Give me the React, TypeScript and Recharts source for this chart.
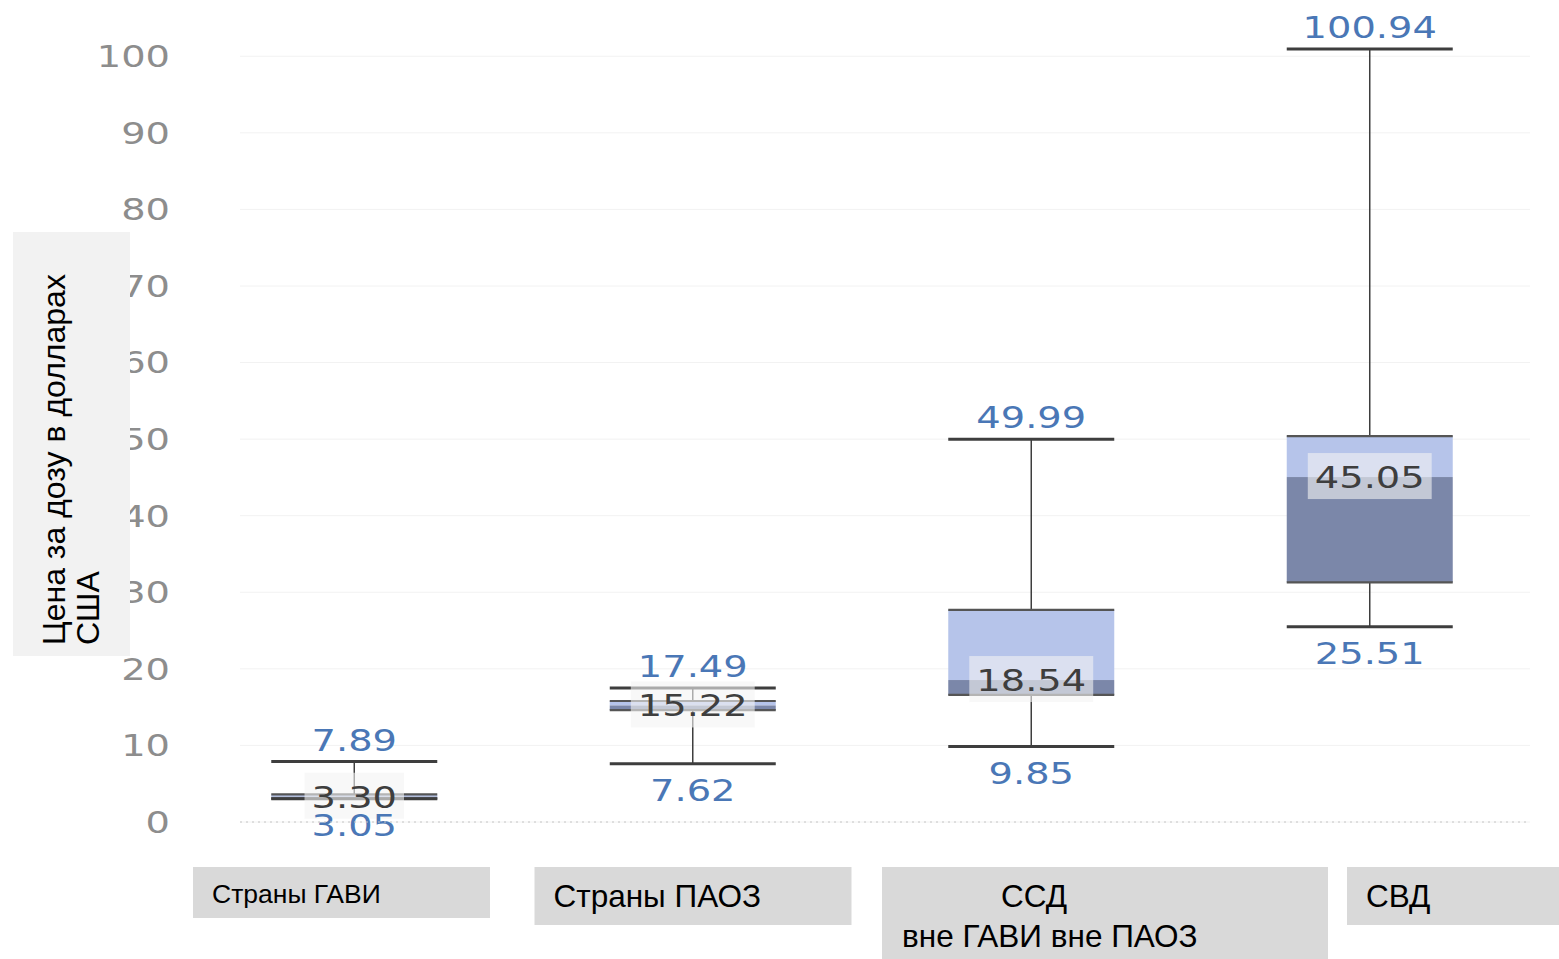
import React from 'react';
import { ComposedChart, Bar, XAxis, YAxis, CartesianGrid, ReferenceLine } from 'recharts';

// ---- data ----
const categories = ['Страны ГАВИ', 'Страны ПАОЗ', 'ССД\nвне ГАВИ вне ПАОЗ', 'СВД'];
const minValues = [3.05, 7.62, 9.85, 25.51];
const q1Values = [3.05, 14.6, 16.6, 31.3];
const medianValues = [3.3, 15.22, 18.54, 45.05];
const q3Values = [3.6, 15.8, 27.7, 50.4];
const maxValues = [7.89, 17.49, 49.99, 100.94];
const yTicks = [0, 10, 20, 30, 40, 50, 60, 70, 80, 90, 100];
const yAxisTitle = ['Цена за дозу в долларах', 'США'];

const data = categories.map((name, i) => ({
  pos: i,
  name,
  min: minValues[i],
  q1: q1Values[i],
  median: medianValues[i],
  q3: q3Values[i],
  max: maxValues[i],
}));

// ---- layout / style ----
const W = 1559;
const H = 959;
const NUM_FONT = 'DejaVu Sans, Verdana, sans-serif';
const NUM_SIZE = 30;
const NUM_STRETCH = 1.28;
const BLUE = '#4a77b6';
const DARK = '#3e3e3e';
const LIGHT_BOX = '#b6c4ea';
const DARK_BOX = '#7b87a9';

const labelBoxes = [
  { left: -161.5, width: 297, top: 45, height: 51, fontSize: 26.5, lines: [{ dx: 19, dy: 36 }] },
  { left: -158.5, width: 317, top: 45, height: 58, fontSize: 31.5, lines: [{ dx: 19, dy: 40 }] },
  { left: -149.5, width: 446, top: 45, height: 92, fontSize: 31.5, lines: [{ dx: 119, dy: 40 }, { dx: 20, dy: 80 }] },
  { left: -23, width: 212, top: 45, height: 58, fontSize: 31.5, lines: [{ dx: 19, dy: 40 }] },
];

const fmt = (v: number) => v.toFixed(2);
const numWidth = (s: string) => {
  let em = 0;
  for (const ch of s) em += ch === '.' ? 0.318 : 0.636;
  return em * NUM_SIZE * NUM_STRETCH;
};

const NumText = ({ x, y, text, fill }: { x: number; y: number; text: string; fill: string }) => (
  <text
    transform={`translate(${x},${y}) scale(${NUM_STRETCH},1)`}
    textAnchor="middle"
    fontFamily={NUM_FONT}
    fontSize={NUM_SIZE}
    fill={fill}
  >
    {text}
  </text>
);

const BoxShape = (props: any) => {
  const { x, y, width, height, payload } = props;
  if (!payload) return null;
  const top = Math.min(y, y + height);
  const bottom = Math.max(y, y + height);
  const lo = payload.min;
  const hi = payload.max;
  const py = (v: number) => bottom - ((v - lo) / (hi - lo)) * (bottom - top);
  const cx = x + width / 2;
  const yMax = py(payload.max);
  const yMin = py(payload.min);
  const yQ1 = py(payload.q1);
  const yQ3 = py(payload.q3);
  const yMed = py(payload.median);
  const medText = fmt(payload.median);
  const bgW = numWidth(medText) + 14;
  return (
    <g>
      <line x1={cx} x2={cx} y1={yMax} y2={yQ3} stroke={DARK} strokeWidth={1.5} />
      <line x1={cx} x2={cx} y1={yQ1} y2={yMin} stroke={DARK} strokeWidth={1.5} />
      <rect x={x} y={yQ3} width={width} height={Math.max(0, yMed - yQ3)} fill={LIGHT_BOX} />
      <rect x={x} y={yMed} width={width} height={Math.max(0, yQ1 - yMed)} fill={DARK_BOX} />
      <line x1={x} x2={x + width} y1={yQ3} y2={yQ3} stroke="#555" strokeWidth={2.2} />
      <line x1={x} x2={x + width} y1={yQ1} y2={yQ1} stroke="#555" strokeWidth={2.2} />
      <line x1={x} x2={x + width} y1={yMax} y2={yMax} stroke={DARK} strokeWidth={3} />
      <line x1={x} x2={x + width} y1={yMin} y2={yMin} stroke={DARK} strokeWidth={3} />
      <rect x={cx - bgW / 2} y={yMed - 24} width={bgW} height={46} fill="#f4f4f4" fillOpacity={0.6} />
      <NumText x={cx} y={yMax - 11} text={fmt(payload.max)} fill={BLUE} />
      <NumText x={cx} y={yMin + 37} text={fmt(payload.min)} fill={BLUE} />
      <NumText x={cx} y={yMed + 11} text={medText} fill={DARK} />
    </g>
  );
};

const YTick = (props: any) => {
  const { x, y, payload } = props;
  return (
    <text
      transform={`translate(${x},${y}) scale(${NUM_STRETCH},1)`}
      textAnchor="end"
      dy="0.36em"
      fontFamily={NUM_FONT}
      fontSize={NUM_SIZE}
      fill="#8d8d8d"
    >
      {payload.value}
    </text>
  );
};

const XTick = (props: any) => {
  const { x, y, payload } = props;
  const i = payload.value as number;
  const box = labelBoxes[i];
  if (!box) return null;
  const lines = categories[i].split('\n');
  const left = x + box.left;
  const top = y + box.top;
  return (
    <g>
      <rect x={left} y={top} width={box.width} height={box.height} fill="#d9d9d9" />
      {lines.map((ln, k) => (
        <text
          key={k}
          x={left + box.lines[k].dx}
          y={top + box.lines[k].dy}
          fontFamily="Liberation Sans, Arial, sans-serif"
          fontSize={box.fontSize}
          fill="#000"
        >
          {ln}
        </text>
      ))}
    </g>
  );
};

export default function App() {
  return (
    <div style={{ position: 'absolute', left: 0, top: 0, width: W, height: H, overflow: 'hidden', background: '#fff' }}>
      <ComposedChart width={W} height={H} data={data} margin={{ top: 18, right: 29, bottom: 0, left: 0 }}>
        <CartesianGrid horizontal vertical={false} syncWithTicks stroke="#f2f2f2" />
        <XAxis
          type="number"
          dataKey="pos"
          domain={[-0.3383, 3.4727]}
          ticks={[0, 1, 2, 3]}
          axisLine={false}
          tickLine={false}
          tickSize={0}
          tickMargin={0}
          height={137}
          tick={<XTick />}
          interval={0}
        />
        <YAxis
          type="number"
          domain={[0, 105]}
          ticks={yTicks}
          width={240}
          axisLine={false}
          tickLine={false}
          tickSize={0}
          tickMargin={70}
          tick={<YTick />}
          interval={0}
        />
        <ReferenceLine y={0} stroke="#c4c4c4" strokeDasharray="2 4" />
        <Bar
          dataKey={(d: any) => [d.min, d.max]}
          barSize={166}
          shape={<BoxShape />}
          isAnimationActive={false}
        />
      </ComposedChart>
      <div style={{ position: 'absolute', left: 13, top: 232, width: 117, height: 424, background: '#f2f2f2' }}>
        <svg width={117} height={424} style={{ display: 'block' }}>
          <text transform="translate(52,413) rotate(-90)" fontFamily="Liberation Sans, Arial, sans-serif" fontSize={32} fill="#000">
            {yAxisTitle[0]}
          </text>
          <text transform="translate(86,413) rotate(-90)" fontFamily="Liberation Sans, Arial, sans-serif" fontSize={32} fill="#000">
            {yAxisTitle[1]}
          </text>
        </svg>
      </div>
    </div>
  );
}
